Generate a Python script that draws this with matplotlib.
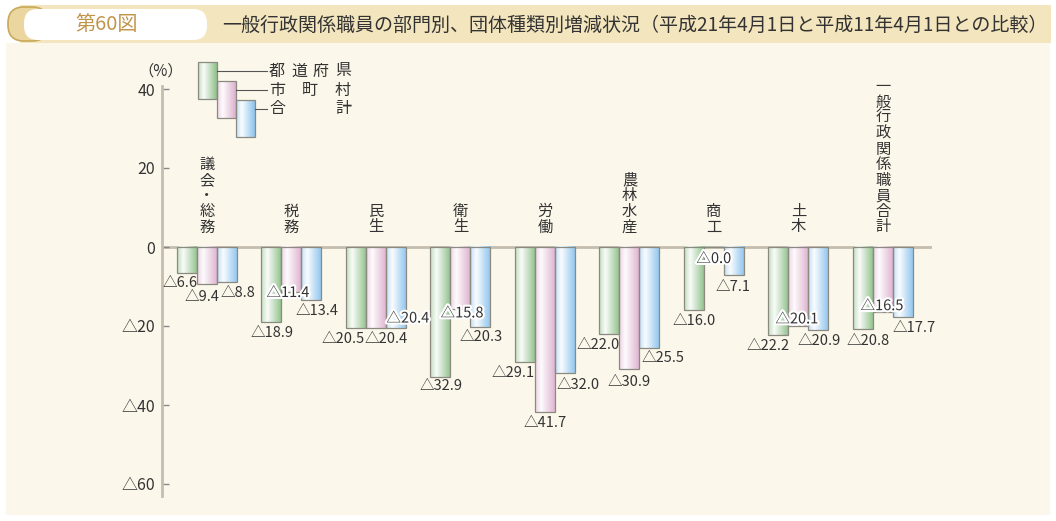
import numpy as np
import matplotlib
matplotlib.use("Agg")
import matplotlib.pyplot as plt
from matplotlib.patches import Rectangle, FancyBboxPatch
from matplotlib.transforms import blended_transform_factory
import matplotlib.patheffects as pe

plt.rcParams['font.family'] = ['Noto Sans CJK JP', 'DejaVu Sans']

# ---------------- data ----------------
categories = ["議会・総務", "税務", "民生", "衛生", "労働", "農林水産", "商工", "土木", "一般行政関係職員合計"]
series_names = ["都道府県", "市町村", "合計"]
pref = [-6.6, -18.9, -20.5, -32.9, -29.1, -22.0, -16.0, -22.2, -20.8]
muni = [-9.4, -11.4, -20.4, -15.8, -41.7, -30.9, 0.0, -20.1, -16.5]
total = [-8.8, -13.4, -20.4, -20.3, -32.0, -25.5, -7.1, -20.9, -17.7]
yticks = [40, 20, 0, -20, -40, -60]
title_no = "第60図"
title = "一般行政関係職員の部門別、団体種類別増減状況（平成21年4月1日と平成11年4月1日との比較）"

# label offsets in pixels (dx, dy downward) relative to bar centre / bar end
label_off = [
    [(-7, 10), (0.5, 11), (-13, 11), (0.5, 9), (-12, 11), (-11.5, 11), (0, 11), (-10.5, 11), (5, 12)],
    [(-5, 13), (-3.5, 1), (10, 11), (1.5, 4), (0, 11), (-0.5, 13), (0, 12), (-1.5, -7), (-1, -6)],
    [(11, 11), (5.5, 11), (12, -9), (0.5, 10), (13, 12), (13.5, 10), (-1, 12), (0.5, 11), (11, 11)],
]
halo = [
    [False] * 9,
    [False, True, False, True, False, False, True, True, True],
    [False, False, True, False, False, False, False, False, False],
]

W, H = 1056, 521
fig = plt.figure(figsize=(W / 100, H / 100), dpi=100, facecolor="white")

# background overlay in pixel coordinates
bg = fig.add_axes([0, 0, 1, 1], zorder=0)
bg.set_xlim(0, W)
bg.set_ylim(H, 0)
bg.axis("off")
bg.add_patch(Rectangle((6, 43), 1044, 472, facecolor="#FCF7EB", edgecolor="none"))
bg.add_patch(Rectangle((20, 5), 1031, 38, facecolor="#F3E5BD", edgecolor="none"))
bg.add_patch(FancyBboxPatch((8, 7), 40, 34, boxstyle="round,pad=0,rounding_size=16",
                            facecolor="#EBD69F", edgecolor="#C9A95A", lw=1.2))
bg.add_patch(FancyBboxPatch((24, 9), 183, 31, boxstyle="round,pad=0,rounding_size=14",
                            facecolor="white", edgecolor="none"))
bg.text(107, 25, title_no, fontsize=14.5, color="#C0954A", ha="center", va="center")
bg.text(222, 25, title, fontsize=13.7, color="#333333", ha="left", va="center")

colors = ["#8FC08A", "#DDB0CE", "#8CC3EE"]


def grad(base):
    t = np.linspace(0, 1, 64)
    w = np.interp(t, [0, 0.3, 1], [0.55, 0.05, 1.0])
    b = np.array(matplotlib.colors.to_rgb(base))
    arr = (1 - w)[:, None] * np.array([1, 1, 1]) + w[:, None] * b
    return arr[None, :, :]


# legend
leg_boxes = [(198, 62), (217, 81), (236, 100)]
for (x0, y0), c in zip(leg_boxes, colors):
    bg.imshow(grad(c), extent=[x0, x0 + 19, y0 + 37, y0], aspect="auto", zorder=2)
    bg.add_patch(Rectangle((x0, y0), 19, 37, fill=False, edgecolor="#8A8A80", lw=0.9, zorder=3))
for (x0, y0) in leg_boxes:
    bg.plot([x0 + 19, 267], [y0 + 9, y0 + 9], color="#555555", lw=0.8, zorder=3)
leg_chars = [[(277, "都"), (299, "道"), (321, "府"), (343, "県")],
             [(277, "市"), (310, "町"), (343, "村")],
             [(277, "合"), (343, "計")]]
for (x0, y0), chars in zip(leg_boxes, leg_chars):
    for cx, ch in chars:
        bg.text(cx, y0 + 9, ch, fontsize=11.5, color="#333333", ha="center", va="center")
bg.text(161, 71, "（%）", fontsize=11, color="#333333", ha="center", va="center")

# main axes
ax = fig.add_axes([162 / W, 1 - 496 / H, (932 - 162) / W, (496 - 86) / H], zorder=1)
ax.patch.set_alpha(0)
ax.set_xlim(-0.5325, 8.580)
ax.set_ylim(-(496 - 247) / 3.95, (247 - 86) / 3.95)
for s in ["top", "right", "bottom"]:
    ax.spines[s].set_visible(False)
ax.spines["left"].set_color("#C5BDAE")
ax.spines["left"].set_linewidth(2)
ax.axhline(0, color="#C5BDAE", lw=2, zorder=1)
ax.set_xticks([])
ax.set_yticks(yticks)
ax.set_yticklabels([str(v) if v >= 0 else "△" + str(abs(v)) for v in yticks])
ax.tick_params(axis="y", direction="in", length=5, width=1, color="#888888",
               labelsize=11.5, labelcolor="#333333", pad=5)

bw = 0.2367
series = [pref, muni, total]
x = np.arange(len(categories))
for k, (vals, c) in enumerate(zip(series, colors)):
    xs = x + (k - 1) * bw
    for xi, v in zip(xs, vals):
        if v != 0:
            ax.imshow(grad(c), extent=[xi - bw / 2, xi + bw / 2, v, 0], aspect="auto", zorder=2)
    ax.bar(xs, vals, width=bw, fill=False, edgecolor="#8A8A80", lw=0.9, zorder=3)
    for i, (xi, v) in enumerate(zip(xs, vals)):
        dx, dy = label_off[k][i]
        txt = "△" + f"{abs(v):.1f}"
        kw = {}
        if halo[k][i]:
            kw["path_effects"] = [pe.withStroke(linewidth=3, foreground="white")]
        ax.annotate(txt, xy=(xi, v), xytext=(dx * 0.72, -dy * 0.72), textcoords="offset points",
                    ha="center", va="center", fontsize=10.5, color="#333333", zorder=5, **kw)
ax.set_xlim(-0.5325, 8.580)
ax.set_ylim(-(496 - 247) / 3.95, (247 - 86) / 3.95)

# vertical category labels
tr = blended_transform_factory(ax.transData, fig.transFigure)
for xi, cat in zip(x, categories):
    for j, ch in enumerate(reversed(cat)):
        py = 227 - j * 15.6
        ax.text(xi, 1 - py / H, ch, transform=tr, fontsize=11, color="#333333",
                ha="center", va="center", zorder=5)

fig.savefig("out.png", dpi=100, facecolor="white")
